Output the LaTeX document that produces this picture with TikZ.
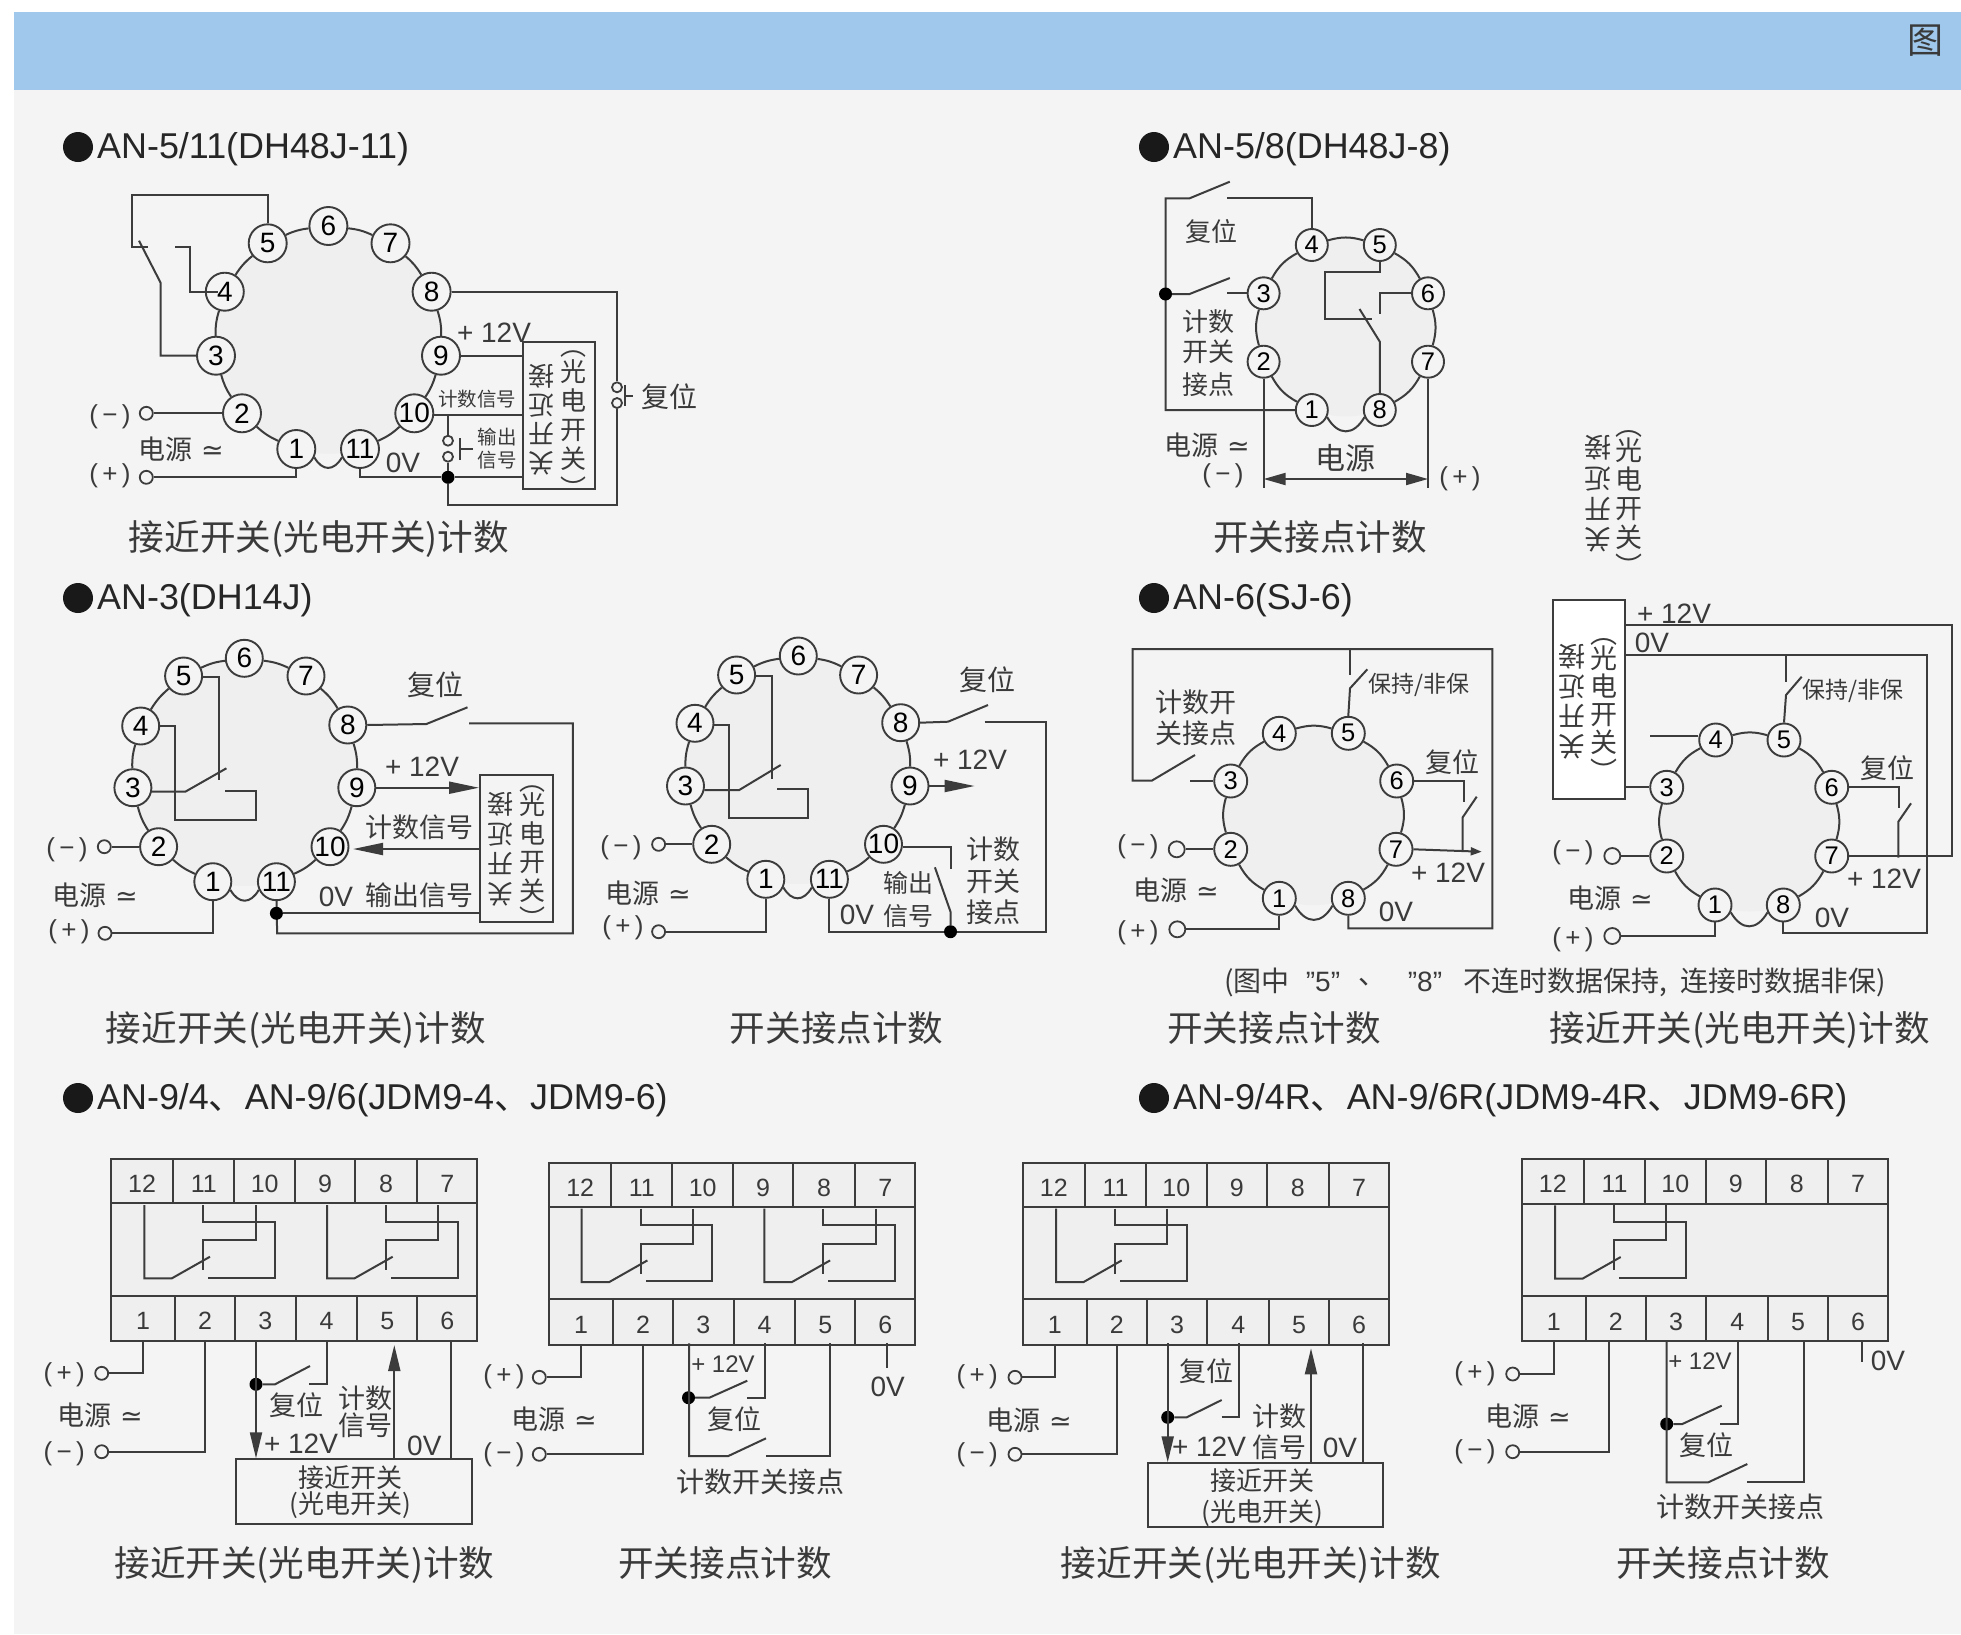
\documentclass[tikz,border=0pt]{standalone}
\usepackage{fontspec}
\usetikzlibrary{arrows.meta,calc}
\setmainfont{Liberation Sans}
\newfontfamily\cjk{Noto Sans CJK SC}
\newfontfamily\djv{DejaVu Sans}
\definecolor{bgc}{HTML}{F4F4F4}
\definecolor{inr}{HTML}{EFEFEF}
\definecolor{hdr}{HTML}{9FC8EC}
\definecolor{lc}{HTML}{3C3C3C}
\definecolor{tc}{HTML}{3A3A3A}
\newcounter{lab}
\tikzset{
 wire/.style={line width=2pt,draw=lc},
 ringbg/.style={fill=inr},
 ringpin/.style={circle,draw=lc,line width=1.9pt,fill=bgc,minimum size=#1pt,inner sep=0pt,text=black},
 term/.style={circle,draw=lc,line width=1.8pt,fill=bgc,minimum size=#1pt,inner sep=0pt},
 term/.default=13,
 jdot/.style={circle,fill=black,minimum size=13pt,inner sep=0pt},
 cellb/.style={rectangle,draw=lc,line width=2pt,fill=inr,inner sep=0pt,text=tc,font=\fontsize{25}{25}\selectfont},
 boxb/.style={rectangle,draw=lc,line width=2pt,fill=bgc,inner sep=0pt},
 bigarrow/.style={-{Stealth[length=26pt,width=12pt,inset=0pt]}},
 longarrow/.style={-{Stealth[length=30pt,width=12pt,inset=0pt]}},
 smallarrow/.style={-{Stealth[length=11pt,width=8pt,inset=0pt]}},
 dimarrow/.style={{Stealth[length=22pt,width=12pt,inset=0pt]}-{Stealth[length=22pt,width=12pt,inset=0pt]}},
}
\newcommand\CN[4]{\stepcounter{lab}\node[inner sep=0pt,text=tc,font=\fontsize{#1}{#1}\selectfont\cjk,align=center] (L\arabic{lab}) at (#2,#3) {#4};}
\newcommand\CW[4]{\stepcounter{lab}\node[anchor=west,inner sep=0pt,text=tc,font=\fontsize{#1}{#1}\selectfont\cjk] (L\arabic{lab}) at (#2,#3) {#4};}
\newcommand\EN[4]{\stepcounter{lab}\node[inner sep=0pt,text=tc,font=\fontsize{#1}{#1}\selectfont] (L\arabic{lab}) at (#2,#3) {#4};}
\newcommand\VC[6]{\stepcounter{lab}\node[inner sep=0pt,text=tc,rotate=#1,align=center,font=\fontsize{#4}{#5}\selectfont\cjk] (L\arabic{lab}) at (#2,#3) {#6};}
\newcommand\HEAD[4]{\stepcounter{lab}\node[circle,fill=black!90,minimum size=30pt,inner sep=0pt] (B\arabic{lab}) at (#1,#3) {};
 \node[anchor=west,inner sep=0pt,text=black!85,font=\fontsize{35.9}{36}\selectfont] (L\arabic{lab}) at (#2,#3+2) {#4};}
\newcommand\PWR[2]{\CN{27}{#1}{#2}{电源\,\,{\djv ≃}}}
\newcommand\PM[2]{\EN{26}{#1}{#2}{(\,−\,)}}
\newcommand\PP[2]{\EN{26}{#1}{#2}{(\,+\,)}}
\newcommand\PN[5]{\ifnum#5>35 \node[ringpin=#5,font=\fontsize{28}{28}\selectfont] (#1) at (#2,#3) {#4};\else \node[ringpin=#5,font=\fontsize{25.5}{26}\selectfont] (#1) at (#2,#3) {#4};\fi}
\newcommand\ringchain[3]{\foreach \i [remember=\i as \j (initially 1)] in {2,...,#2} {\draw[wire] (#1\j) to[bend left=#3] (#1\i);}}
\newcommand\notch[2]{\draw[wire] (#1.-25) to[out=-60,in=-120,looseness=1.5] (#2.205);}
\newcommand\relay[2]{\begin{scope}[shift={(#1,#2)}]
 \draw[wire] (0,0) -- (0,73.4) -- (27.4,73.4) -- (65.7,51.7);
 \draw[wire] (59,0) -- (59,16.7) -- (130.7,16.7) -- (130.7,72.7) -- (64,72.7);
 \draw[wire] (111.4,0) -- (111.4,35) -- (59,35) -- (59,65);
\end{scope}}
\newcommand\DG[1]{\raisebox{-2.5pt}[18pt][0pt]{#1}}
\newcommand\tblock[3]{\begin{scope}[shift={(#2,#3)}]
 \node[cellb,minimum width=366.3pt,minimum height=92.4pt] (#1body) at (183.15,90.5) {};
 \node[cellb,minimum width=62.3pt,minimum height=44.3pt] (#1c12) at (31.15,22.15) {\DG{12}};
 \node[cellb,minimum width=61pt,minimum height=44.3pt] (#1c11) at (92.8,22.15) {\DG{11}};
 \node[cellb,minimum width=60.7pt,minimum height=44.3pt] (#1c10) at (153.65,22.15) {\DG{10}};
 \node[cellb,minimum width=60pt,minimum height=44.3pt] (#1c9) at (214,22.15) {\DG{9}};
 \node[cellb,minimum width=62.3pt,minimum height=44.3pt] (#1c8) at (275.15,22.15) {\DG{8}};
 \node[cellb,minimum width=60pt,minimum height=44.3pt] (#1c7) at (336.3,22.15) {\DG{7}};
 \node[cellb,minimum width=64pt,minimum height=45.3pt] (#1c1) at (32,159.35) {\DG{1}};
 \node[cellb,minimum width=60pt,minimum height=45.3pt] (#1c2) at (94,159.35) {\DG{2}};
 \node[cellb,minimum width=60.7pt,minimum height=45.3pt] (#1c3) at (154.35,159.35) {\DG{3}};
 \node[cellb,minimum width=61.6pt,minimum height=45.3pt] (#1c4) at (215.5,159.35) {\DG{4}};
 \node[cellb,minimum width=60pt,minimum height=45.3pt] (#1c5) at (276.3,159.35) {\DG{5}};
 \node[cellb,minimum width=60pt,minimum height=45.3pt] (#1c6) at (336.3,159.35) {\DG{6}};
\end{scope}}
\newcommand\VPAR{︵\\[-4pt]光\\电\\开\\关\\︶}
\newcommand\VNEAR{关\\开\\近\\接}
\begin{document}
\begin{tikzpicture}[x=1pt,y=-1pt]
\useasboundingbox (0,0) rectangle (1961,1634);
\fill[white] (0,0) rectangle (1961,1634);
\fill[bgc] (14,90) rectangle (1961,1634);
\fill[hdr] (14,12) rectangle (1961,90);
\CN{36}{1925}{41}{图}

%% Titles
\HEAD{78}{97}{147}{AN-5/11(DH48J-11)}
\HEAD{1154}{1173}{147}{AN-5/8(DH48J-8)}
\HEAD{78}{97}{598}{AN-3(DH14J)}
\HEAD{1154}{1173}{598}{AN-6(SJ-6)}
\HEAD{78}{97}{1098}{AN-9/4{\cjk 、}AN-9/6(JDM9-4{\cjk 、}JDM9-6)}
\HEAD{1154}{1173}{1098}{AN-9/4R{\cjk 、}AN-9/6R(JDM9-4R{\cjk 、}JDM9-6R)}

%% Captions
\CN{35.6}{319}{539}{接近开关(光电开关)计数}
\CN{35.6}{1320}{537}{开关接点计数}
\CN{35.6}{296}{1030}{接近开关(光电开关)计数}
\CN{35.6}{836.6}{1028}{开关接点计数}
\CN{35.6}{1274}{1028}{开关接点计数}
\CN{35.6}{1740}{1030}{接近开关(光电开关)计数}
\CN{35.6}{304.5}{1565}{接近开关(光电开关)计数}
\CN{35.6}{725}{1563}{开关接点计数}
\CN{35.6}{1251}{1565}{接近开关(光电开关)计数}
\CN{35.6}{1723}{1563}{开关接点计数}
%% Note
\CW{28}{1224}{982}{(图中}
\EN{28}{1323}{982}{”5”}
\CN{28}{1372}{982}{、}
\EN{28}{1425}{982}{”8”}
\CW{28}{1463}{982}{不连时数据保持,}
\CW{28}{1680}{982}{连接时数据非保)}

%% ---------- AN-5/11
\fill[ringbg] (328.5,340) circle[radius=113.7pt];
\PN{a1}{296.3}{449}{1}{38}\PN{a2}{242}{413.3}{2}{38}\PN{a3}{216}{355.7}{3}{38}\PN{a4}{224.8}{291.7}{4}{38}
\PN{a5}{267.7}{243.3}{5}{38}\PN{a6}{328.4}{226}{6}{38}\PN{a7}{390.5}{243.3}{7}{38}\PN{a8}{431.6}{291.7}{8}{38}
\PN{a9}{441}{355.7}{9}{38}\PN{a10}{414.3}{413.3}{10}{38}\PN{a11}{360}{449}{11}{38}
\ringchain{a}{11}{9}\notch{a1}{a11}
\draw[wire] (a5.north) |- (132.4,195) -- (132.4,247) -- (147.6,247);
\draw[wire] (139,240.7) -- (160.6,282.7) |- (a3.west);
\draw[wire] (175,246.7) -- (190,246.7) |- (a4.west) -- ++(13,0);
\node[term] (at1) at (146.3,413.3) {};
\node[term] (at2) at (146.3,477.3) {};
\draw[wire] (at1) -- (a2);
\draw[wire] (at2) -| (a1);
\node[boxb,minimum width=72.3pt,minimum height=147.6pt] (abox) at (558.85,415.5) {};
\draw[wire] (a9.east) -- (abox.west |- a9.east);
\coordinate (a10e) at (433,415);
\draw[wire] (a10e) -- (abox.west |- a10e);
\node[jdot] (aj) at (448,477.3) {};
\draw[wire] (a11) |- (aj);
\draw[wire] (aj) -- (abox.west |- aj);
\node[term=10] (ar1) at (617,387.3) {};
\node[term=10] (ar2) at (617,403) {};
\draw[wire] (a8.east) -| (ar1);
\draw[wire] (ar2) |- (448,505) -- (aj);
\draw[wire] (624.6,385) -- (624.6,406) (624.6,396) -- (633,396);
\coordinate (a10j) at (448,415);
\node[term=10] (ao1) at (448,440.7) {};
\node[term=10] (ao2) at (448,456.7) {};
\draw[wire] (a10j) -- (ao1);
\draw[wire] (ao2) -- (aj);
\draw[wire] (460,438) -- (460,460) (460,449) -- (473,449);
\PM{110}{417}\PP{110}{476}\PWR{181}{449}
\EN{28}{494}{333}{+ 12V}
\EN{28}{403}{463}{0V}
\CN{19.5}{477}{399}{计数信号}
\CN{19.5}{497}{437}{输出}
\CN{19.5}{497}{460}{信号}
\CN{28}{669}{397}{复位}
\VC{0}{573.5}{424.6}{26}{29.3}{\VPAR}
\VC{180}{541}{420}{26}{29}{\VNEAR}

%% ---------- AN-5/8
\fill[ringbg] (1345.8,327.5) circle[radius=89pt];
\PN{b1}{1311.8}{410}{1}{32}\PN{b2}{1263.6}{361.7}{2}{32}\PN{b3}{1263.6}{293.3}{3}{32}\PN{b4}{1311.8}{245}{4}{32}
\PN{b5}{1379.8}{245}{5}{32}\PN{b6}{1428}{293.3}{6}{32}\PN{b7}{1428}{361.7}{7}{32}\PN{b8}{1379.8}{410}{8}{32}
\ringchain{b}{8}{16}\notch{b1}{b8}
\draw[wire] (1229.8,181.7) -- (1189.6,198.3) -- (1165.5,198.3) |- (b1.west);
\draw[wire] (1227,198.3) -| (b4.north);
\node[jdot] (bj) at (1165.5,294) {};
\draw[wire] (bj) -- (1189.6,294) -- (1229.8,278);
\draw[wire] (1227,293.3) -- (b3.west);
\draw[wire] (b5.south) |- (1325.2,271.7) |- (1371.8,319);
\draw[wire] (1359.5,309) -- (1379.8,341.7) -- (b8.north);
\draw[wire] (b6.west) -| (1379.8,314);
\coordinate (bm) at (1263.6,479);
\coordinate (bp) at (1428,479);
\draw[wire] (b2.south) -- (1263.6,488);
\draw[wire] (b7.south) -- (1428,488);
\draw[wire,dimarrow] (bm) -- (bp);
\CN{30}{1345}{458}{电源}
\PWR{1207}{445}\PM{1223}{476}\PP{1460}{479}
\CN{26}{1211}{232}{复位}
\CN{26}{1208}{322}{计数}
\CN{26}{1208}{352}{开关}
\CN{26}{1208}{385}{接点}
\VC{0}{1629}{503.5}{27}{29}{\VPAR}
\VC{180}{1598}{494}{27}{30.6}{\VNEAR}

%% ---------- AN-3 left
\fill[ringbg] (244.5,772) circle[radius=114pt];
\PN{c1}{212.8}{881.7}{1}{37}\PN{c2}{158.6}{846.7}{2}{37}\PN{c3}{132.9}{787.7}{3}{37}\PN{c4}{140.7}{726}{4}{37}
\PN{c5}{183.6}{676}{5}{37}\PN{c6}{244.3}{658.3}{6}{37}\PN{c7}{306}{676}{7}{37}\PN{c8}{347.8}{725}{8}{37}
\PN{c9}{356.8}{787.7}{9}{37}\PN{c10}{330}{846.7}{10}{37}\PN{c11}{276.4}{881.7}{11}{37}
\ringchain{c}{11}{9}\notch{c1}{c11}
\draw[wire] (201.4,677.3) -- (219.3,677.3) -- (219.3,780);
\draw[wire] (151.4,791.7) -- (185.3,791.7) -- (226.4,768.3);
\draw[wire] (160.3,726) -- (175.3,726) |- (255.7,820) |- (224.6,790.7);
\node[term] (ct1) at (104.3,846.7) {};
\node[term] (ct2) at (105,933.3) {};
\draw[wire] (ct1) -- (c2);
\draw[wire] (ct2) -| (c1);
\node[boxb,minimum width=73pt,minimum height=146.7pt] (cbox) at (516.5,848.35) {};
\draw[wire] (c8.east) -- (426.4,724) -- (467.5,707.3);
\draw[wire] (469.2,723.3) -- (572.8,723.3) |- (277.1,933.3) -- (c11);
\draw[wire,longarrow] (c9.east) -- (cbox.west |- c9.east);
\coordinate (c10e) at (353,849);
\draw[wire,longarrow] (cbox.west |- c10e) -- (c10e);
\node[jdot] (cj) at (276.4,913.3) {};
\draw[wire] (cj) -- (cbox.west |- cj);
\CN{28}{435}{685}{复位}
\EN{28}{422}{767}{+ 12V}
\CN{27}{419.6}{827}{计数信号}
\EN{28}{336}{897}{0V}
\CN{27}{419.6}{895}{输出信号}
\PM{67}{850}\PP{69}{932}\PWR{95}{895}
\VC{0}{532}{857}{26}{28.5}{\VPAR}
\VC{180}{500}{849}{26}{30}{\VNEAR}

%% ---------- AN-3 right
\fill[ringbg] (798,770) circle[radius=114pt];
\PN{d1}{765.8}{879.3}{1}{37}\PN{d2}{711.7}{844.3}{2}{37}\PN{d3}{685.5}{786}{3}{37}\PN{d4}{695}{723.3}{4}{37}
\PN{d5}{736.6}{675}{5}{37}\PN{d6}{798.3}{656}{6}{37}\PN{d7}{858.6}{675}{7}{37}\PN{d8}{900.7}{722.7}{8}{37}
\PN{d9}{910}{786}{9}{37}\PN{d10}{883.5}{844.3}{10}{37}\PN{d11}{829.4}{879.3}{11}{37}
\ringchain{d}{11}{9}\notch{d1}{d11}
\draw[wire] (755.8,676) -- (771.7,676) -- (771.7,779.3);
\draw[wire] (704.4,790) -- (739.2,790) -- (780.7,765);
\draw[wire] (714.4,725) -- (728.6,725) |- (808.2,818.3) |- (777.4,789);
\node[term] (dt1) at (658.6,844.3) {};
\node[term] (dt2) at (658.6,931.7) {};
\draw[wire] (dt1) -- (d2);
\draw[wire] (dt2) -| (d1);
\draw[wire] (d8.east) -- (948,721.7) -- (988,705);
\draw[wire] (984.6,721.7) -- (1046,721.7) |- (829.4,931.7) -- (d11);
\coordinate (d9t) at (974.6,786);
\draw[wire,longarrow] (d9.east) -- (d9t);
\node[jdot] (dj) at (950.5,931.7) {};
\draw[wire] (903.4,846.7) -- (951.4,846.7) -- (951.4,869.3);
\draw[wire] (934.9,867.3) -- (950.5,911.7) -- (dj);
\CN{28}{987}{680}{复位}
\EN{28}{970}{760}{+ 12V}
\CN{27}{993}{849}{计数}
\CN{27}{993}{881}{开关}
\CN{27}{993}{912}{接点}
\CN{25}{908}{883}{输出}
\CN{25}{908}{916}{信号}
\EN{28}{857}{915}{0V}
\PM{621}{848}\PP{623}{928}\PWR{648}{893}

%% ---------- AN-6 left
\fill[ringbg] (1313.8,815.8) circle[radius=89.4pt];
\PN{e1}{1279.3}{898.3}{1}{33}\PN{e2}{1230.7}{849.3}{2}{33}\PN{e3}{1230.7}{781}{3}{33}\PN{e4}{1279.3}{733.3}{4}{33}
\PN{e5}{1348.3}{733.3}{5}{33}\PN{e6}{1396.7}{781}{6}{33}\PN{e7}{1396}{849.3}{7}{33}\PN{e8}{1348.3}{898.3}{8}{33}
\ringchain{e}{8}{16}\notch{e1}{e8}
\draw[wire] (1195,755) -- (1151.7,780.7) -- (1132.7,780.7) |- (1492.3,649) |- (1348.3,928.3) -- (e8);
\draw[wire] (1190,781) -- (e3.west);
\draw[wire] (1350,649) -- (1350,675);
\draw[wire] (e5.north) -- (1350,688.3) -- (1367.3,669.3);
\draw[wire] (e6.east) -- (1464,781) -- (1464,801.7);
\draw[wire] (1476.7,796.7) -- (1462.7,817.3) -- (1462.7,851.7);
\coordinate (e7t) at (1481.7,851.7);
\draw[wire,smallarrow] (e7.east) -- (e7t);
\node[term=16] (et1) at (1176.7,849.3) {};
\node[term=16] (et2) at (1177.3,929.3) {};
\draw[wire] (et1) -- (e2);
\draw[wire] (et2) -| (e1);
\CN{23}{1419}{685}{保持/非保}
\CN{27}{1196}{702}{计数开}
\CN{27}{1196}{733}{关接点}
\CN{27}{1452}{762}{复位}
\EN{28}{1448}{873}{+ 12V}
\EN{28}{1396}{912}{0V}
\PM{1138}{847}\PP{1138}{933}\PWR{1176}{890}

%% ---------- AN-6 right
\node[rectangle,draw=lc,line width=2pt,fill=white,inner sep=0pt,minimum width=72.3pt,minimum height=199.3pt] (fbox) at (1588.85,699.65) {};
\fill[ringbg] (1749.5,822.5) circle[radius=89pt];
\PN{f1}{1715}{905}{1}{33}\PN{f2}{1666.7}{856}{2}{33}\PN{f3}{1666.7}{787.3}{3}{33}\PN{f4}{1715.7}{740}{4}{33}
\PN{f5}{1784}{740}{5}{33}\PN{f6}{1831.7}{787.3}{6}{33}\PN{f7}{1831.7}{856}{7}{33}\PN{f8}{1783.3}{905}{8}{33}
\ringchain{f}{8}{16}\notch{f1}{f8}
\draw[wire] (1625,625) -- (1951.7,625) |- (f7.east);
\draw[wire] (1625,655) -- (1927.3,655) |- (1783.3,932.7) -- (f8);
\draw[wire] (f5.north) -- (1786,695) -- (1801.7,676.7);
\draw[wire] (1786,655) -- (1786,681.7);
\draw[wire] (f6.east) -- (1899,787.3) -- (1899,808.3);
\draw[wire] (1911,803.3) -- (1898.3,821.7) -- (1898.3,857.7);
\draw[wire] (f3.west) -- (fbox.east |- f3.west);
\coordinate (f4w) at (1650,735.7);
\draw[wire] (f4w) -- (f4.west |- f4w);
\node[term=16] (ft1) at (1612.3,856) {};
\node[term=16] (ft2) at (1612.3,936) {};
\draw[wire] (ft1) -- (f2);
\draw[wire] (ft2) -| (f1);
\EN{28}{1674}{614}{+ 12V}
\EN{28}{1652}{643}{0V}
\CN{23}{1853}{691}{保持/非保}
\CN{27}{1887}{768}{复位}
\EN{28}{1884}{879}{+ 12V}
\EN{28}{1832}{918}{0V}
\PM{1573}{853}\PP{1573}{940}\PWR{1610}{898}
\VC{0}{1604}{710}{27}{28.3}{\VPAR}
\VC{180}{1571.7}{702}{27}{30}{\VNEAR}

%% ---------- Block A
\tblock{A}{111}{1159}
\relay{144.3}{1205}\relay{327}{1205}
\node[term] (At1) at (101.7,1373.3) {};
\node[term] (At2) at (101.7,1451.7) {};
\draw[wire] (Ac1.south) |- (At1);
\draw[wire] (Ac2.south) |- (At2);
\node[boxb,minimum width=235.7pt,minimum height=64.7pt] (Abox) at (353.85,1491.65) {};
\CN{26}{350}{1478}{接近开关}
\CN{26}{350}{1505}{(光电开关)}
\coordinate (A3w) at (256,1341);
\node[jdot] (Aj) at (256,1384.3) {};
\draw[wire,bigarrow] (A3w) -- (A3w |- Abox.north);
\draw[wire] (Aj) -- (275,1384.3) -- (310,1366);
\draw[wire] (309.3,1384.3) -| (Ac4.south);
\coordinate (A5w) at (394.3,1345);
\draw[wire,bigarrow] (A5w |- Abox.north) -- (A5w);
\coordinate (A6w) at (450.7,1341);
\draw[wire] (A6w) -- (A6w |- Abox.north);
\CN{27}{296.7}{1405}{复位}
\CN{27}{365}{1398}{计数}
\CN{27}{365}{1425}{信号}
\EN{28}{301}{1444}{+ 12V}
\EN{28}{424.3}{1446}{0V}
\PP{64.3}{1375}\PM{64.3}{1454}\PWR{100}{1415}

%% ---------- Block B
\tblock{B}{549}{1162.7}
\relay{581.7}{1208.7}\relay{764.4}{1208.7}
\node[term] (Bt1) at (539.3,1377.3) {};
\node[term] (Bt2) at (539.3,1454.3) {};
\draw[wire] (Bc1.south) |- (Bt1);
\draw[wire] (Bc2.south) |- (Bt2);
\coordinate (B3w) at (689,1343.3);
\node[jdot] (Bj) at (688.5,1397.7) {};
\draw[wire] (B3w) |- (728.3,1456) -- (766,1438.3);
\draw[wire] (766,1456) -- (830,1456) -- (830,1343.3);
\draw[wire] (Bj) -- (709.3,1397.7) -- (747.3,1380.7);
\draw[wire] (747.3,1397.7) -- (765,1397.7) -- (765,1343.3);
\coordinate (B6w) at (886.7,1343.3);
\draw[wire] (B6w) -- (886.7,1368.3);
\EN{24}{723}{1364}{+ 12V}
\CN{27}{734.3}{1419}{复位}
\CN{28}{760.7}{1481.7}{计数开关接点}
\EN{28}{887.7}{1387}{0V}
\PP{504}{1377}\PM{504}{1455}\PWR{554}{1419}

%% ---------- Block C
\tblock{C}{1022.7}{1162.7}
\relay{1056}{1208.7}
\node[term] (Ct1) at (1015,1377.3) {};
\node[term] (Ct2) at (1015,1454.3) {};
\draw[wire] (Cc1.south) |- (Ct1);
\draw[wire] (Cc2.south) |- (Ct2);
\node[boxb,minimum width=235pt,minimum height=63.4pt] (Cbox) at (1265.8,1495) {};
\CN{26}{1262.7}{1481}{接近开关}
\CN{26}{1262.7}{1513}{(光电开关)}
\coordinate (C3w) at (1167.7,1343.3);
\node[jdot] (Cj) at (1167.7,1417.3) {};
\draw[wire,bigarrow] (C3w) -- (C3w |- Cbox.north);
\draw[wire] (Cj) -- (1186.7,1417.3) -- (1221.7,1400);
\draw[wire] (1221.7,1417.3) -- (1239,1417.3) -- (1239,1343.3);
\coordinate (C5w) at (1311,1348.3);
\draw[wire,bigarrow] (C5w |- Cbox.north) -- (C5w);
\coordinate (C6w) at (1363.3,1343.3);
\draw[wire] (C6w) -- (C6w |- Cbox.north);
\CN{27}{1206.7}{1371}{复位}
\CN{27}{1279.3}{1416}{计数}
\CN{27}{1279.3}{1447}{信号}
\EN{28}{1209}{1447}{+ 12V}
\EN{28}{1340}{1448}{0V}
\PP{977.3}{1377}\PM{977.3}{1455}\PWR{1029}{1420}

%% ---------- Block D
\tblock{D}{1521.7}{1159.3}
\relay{1555}{1205.3}
\node[term] (Dt1) at (1512.7,1374) {};
\node[term] (Dt2) at (1512.7,1451.7) {};
\draw[wire] (Dc1.south) |- (Dt1);
\coordinate (D2w) at (1609,1341);
\draw[wire] (D2w) |- (Dt2);
\coordinate (D3w) at (1666.7,1341);
\node[jdot] (Dj) at (1666.7,1424) {};
\draw[wire] (D3w) |- (1708.3,1482.3) -- (1747.3,1464);
\draw[wire] (1747.3,1482) -- (1804.3,1482) -- (1804.3,1341);
\draw[wire] (Dj) -- (1682.3,1424) -- (1721.7,1405.7);
\draw[wire] (1720,1424) -- (1738.3,1424) -- (1738.3,1341);
\coordinate (D6w) at (1861.7,1341);
\draw[wire] (D6w) -- (1861.7,1361.7);
\EN{24}{1700}{1361}{+ 12V}
\EN{28}{1888}{1361}{0V}
\CN{27}{1706.7}{1445}{复位}
\CN{28}{1740}{1506.7}{计数开关接点}
\PP{1475}{1374}\PM{1475}{1451.7}\PWR{1528}{1416}
\end{tikzpicture}
\end{document}
